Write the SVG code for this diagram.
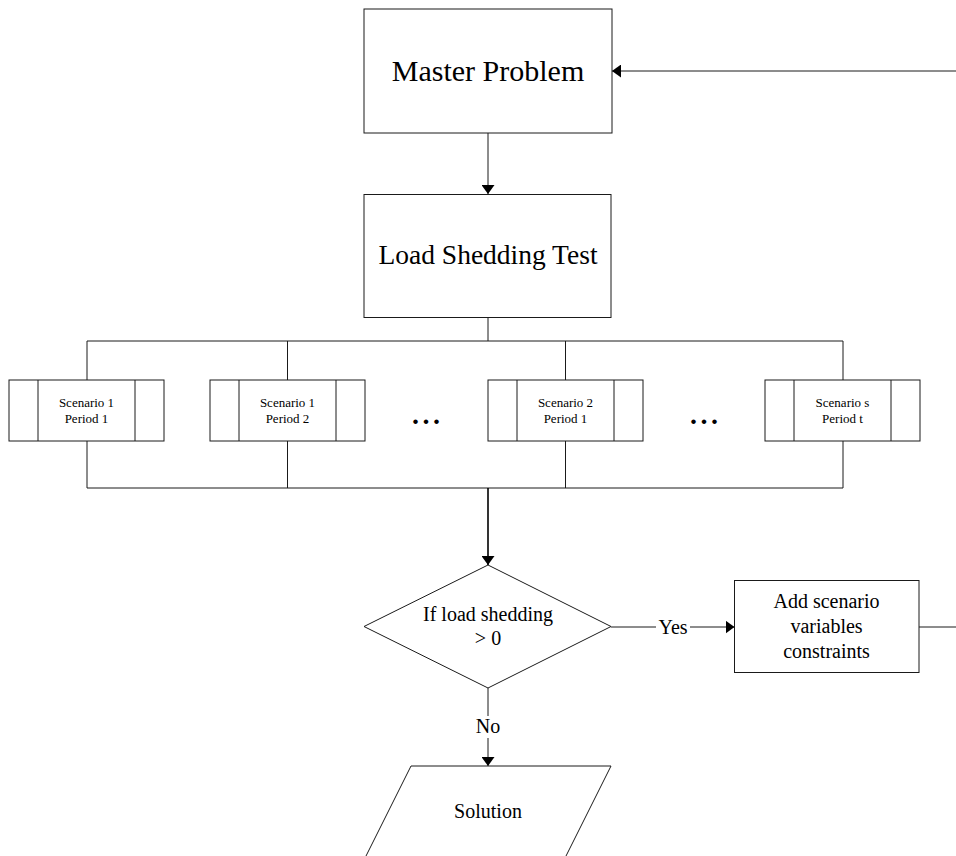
<svg xmlns="http://www.w3.org/2000/svg" width="956" height="856" viewBox="0 0 956 856">
  <style>
    .box { fill: #fff; stroke: #1a1a1a; stroke-width: 1; }
    .line { fill: none; stroke: #1a1a1a; stroke-width: 1; }
    .thick { fill: none; stroke: #000; stroke-width: 1.6; }
    .t { font-family: "Liberation Serif", "Times New Roman", serif; fill: #000; text-anchor: middle; }
    .big { font-size: 30px; }
    .mid { font-size: 27.5px; }
    .n { font-size: 20px; }
    .s { font-size: 13px; }
    .dots { font-size: 28px; font-weight: bold; letter-spacing: 3.5px; }
    .lbl { fill: #fff; stroke: none; }
  </style>
  <defs>
    <marker id="arrow" viewBox="0 0 9 13" refX="9" refY="6.5" markerWidth="9" markerHeight="13" markerUnits="userSpaceOnUse" orient="auto">
      <path d="M0,0 L9,6.5 L0,13 z" fill="#000"/>
    </marker>
  </defs>

  <!-- connectors -->
  <g id="connectors">
    <path class="line" d="M488,133 V194" marker-end="url(#arrow)"/>
    <path class="line" d="M488,318 V341"/>
    <path class="line" d="M87,380 V341 H843 V380"/>
    <path class="line" d="M287.5,341 V380"/>
    <path class="line" d="M565.5,341 V380"/>
    <path class="line" d="M87,441 V488 H843 V441"/>
    <path class="line" d="M287.5,441 V488"/>
    <path class="line" d="M565.5,441 V488"/>
    <path class="thick" d="M488,488 V565" marker-end="url(#arrow)"/>
    <path class="line" d="M611,627 H734.5" marker-end="url(#arrow)"/>
    <path class="line" d="M919,627 H962 V71 H612" marker-end="url(#arrow)"/>
    <path class="line" d="M488,688 V766" marker-end="url(#arrow)"/>
    <rect class="lbl" x="656" y="616" width="34" height="22"/>
    <text class="t n" x="673" y="634">Yes</text>
    <rect class="lbl" x="475" y="716" width="26" height="22"/>
    <text class="t n" x="488" y="733">No</text>
  </g>

  <g id="master">
    <rect class="box" x="364" y="9" width="248" height="124"/>
    <text class="t big" x="488" y="81">Master Problem</text>
  </g>

  <g id="load-test">
    <rect class="box" x="364" y="194.5" width="247" height="123"/>
    <text class="t mid" x="488" y="264">Load Shedding Test</text>
  </g>

  <g id="s1p1">
    <rect class="box" x="9" y="380" width="155" height="61"/>
    <path class="line" d="M38,380 V441 M135,380 V441"/>
    <text class="t s" x="86.5" y="407">Scenario 1</text>
    <text class="t s" x="86.5" y="422.5">Period 1</text>
  </g>

  <g id="s1p2">
    <rect class="box" x="210" y="380" width="155" height="61"/>
    <path class="line" d="M239,380 V441 M336,380 V441"/>
    <text class="t s" x="287.5" y="407">Scenario 1</text>
    <text class="t s" x="287.5" y="422.5">Period 2</text>
  </g>

  <g id="s2p1">
    <rect class="box" x="488" y="380" width="155" height="61"/>
    <path class="line" d="M517,380 V441 M614,380 V441"/>
    <text class="t s" x="565.5" y="407">Scenario 2</text>
    <text class="t s" x="565.5" y="422.5">Period 1</text>
  </g>

  <g id="sspt">
    <rect class="box" x="765" y="380" width="155" height="61"/>
    <path class="line" d="M794,380 V441 M891,380 V441"/>
    <text class="t s" x="842.5" y="407">Scenario s</text>
    <text class="t s" x="842.5" y="422.5">Period t</text>
  </g>

  <g id="ellipsis-1">
    <text class="t dots" x="426" y="423.5" dx="1.75">...</text>
  </g>
  <g id="ellipsis-2">
    <text class="t dots" x="704" y="423.5" dx="1.75">...</text>
  </g>

  <g id="decision">
    <polygon class="box" points="488,565 611,626.5 488,688 364,626.5"/>
    <text class="t n" x="488" y="620.5">If load shedding</text>
    <text class="t n" x="488" y="644.5">&gt; 0</text>
  </g>

  <g id="add-constraints">
    <rect class="box" x="734.5" y="580.5" width="184.5" height="92"/>
    <text class="t n" x="826.5" y="608">Add scenario</text>
    <text class="t n" x="826.5" y="633">variables</text>
    <text class="t n" x="826.5" y="658">constraints</text>
  </g>

  <g id="solution">
    <polygon class="box" points="411,766 611,766 565,858 365,858"/>
    <text class="t n" x="488" y="818">Solution</text>
  </g>
</svg>
